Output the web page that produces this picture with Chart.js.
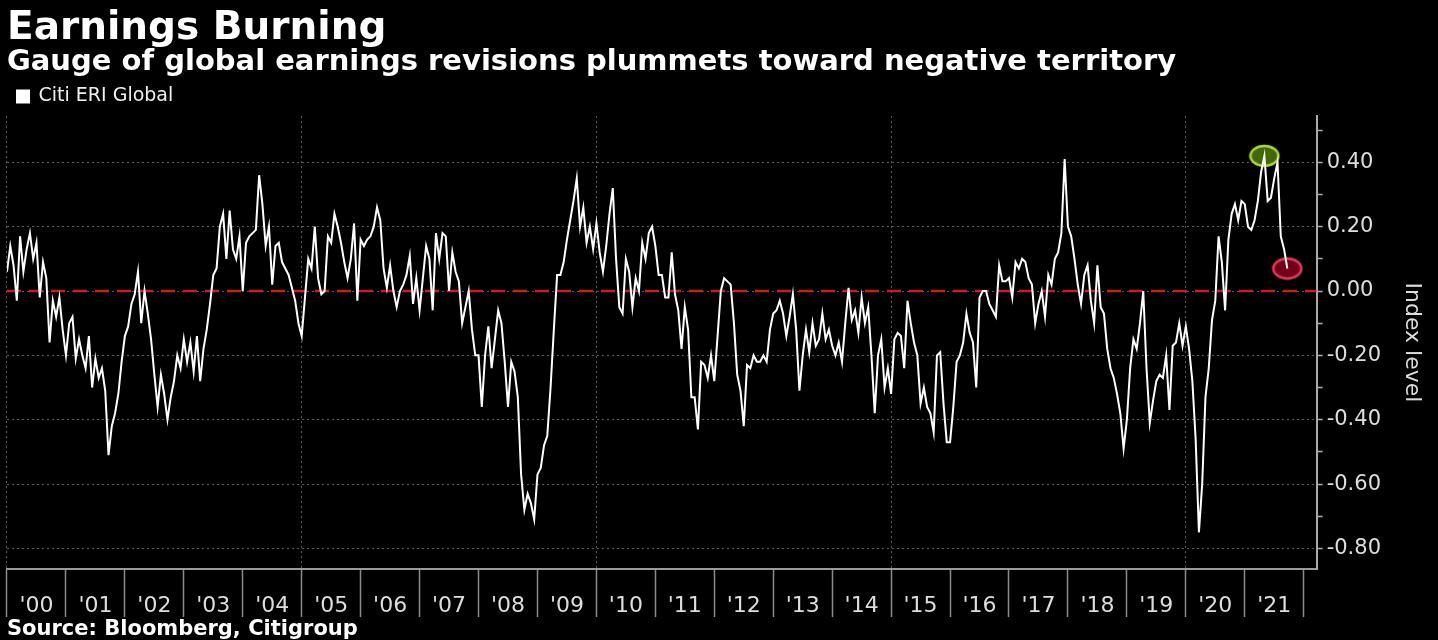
<!DOCTYPE html>
<html>
<head>
<meta charset="utf-8">
<title>Earnings Burning</title>
<script src="https://cdn.jsdelivr.net/npm/chart.js@4"></script>
<style>
  html, body { margin: 0; padding: 0; background: #000; }
  #wrap { width: 1438px; height: 640px; position: relative; }
</style>
</head>
<body>
<div id="wrap"><canvas id="eri-chart"></canvas></div>
<script>
// Citi ERI Global: one row per year, 18 readings a year
const startYear = 2000;
const pointsPerYear = 18;
const eriByYear = [
  [0.06, 0.14, 0.08, -0.03, 0.17, 0.06, 0.13, 0.18, 0.10, 0.15, -0.02, 0.09, 0.04, -0.16, -0.03, -0.08, -0.02, -0.12],
  [-0.20, -0.10, -0.08, -0.21, -0.15, -0.20, -0.24, -0.14, -0.30, -0.21, -0.27, -0.24, -0.31, -0.51, -0.42, -0.38, -0.32, -0.22],
  [-0.14, -0.11, -0.04, -0.01, 0.06, -0.10, 0.00, -0.07, -0.15, -0.26, -0.36, -0.26, -0.32, -0.40, -0.33, -0.28, -0.20, -0.24],
  [-0.15, -0.22, -0.16, -0.25, -0.14, -0.28, -0.18, -0.12, -0.04, 0.05, 0.07, 0.20, 0.24, 0.10, 0.25, 0.13, 0.10, 0.17],
  [0.00, 0.15, 0.17, 0.18, 0.19, 0.36, 0.27, 0.14, 0.20, 0.02, 0.14, 0.15, 0.09, 0.07, 0.05, 0.01, -0.03, -0.10],
  [-0.14, -0.02, 0.10, 0.07, 0.20, 0.04, -0.01, 0.00, 0.17, 0.15, 0.24, 0.20, 0.15, 0.09, 0.04, 0.10, 0.21, -0.03],
  [0.16, 0.14, 0.16, 0.17, 0.20, 0.26, 0.22, 0.07, 0.01, 0.08, 0.00, -0.05, 0.00, 0.02, 0.05, 0.11, -0.04, 0.04],
  [-0.06, 0.04, 0.14, 0.10, -0.06, 0.18, 0.10, 0.18, 0.17, 0.00, 0.12, 0.06, 0.03, -0.10, -0.05, 0.00, -0.12, -0.20],
  [-0.20, -0.36, -0.20, -0.11, -0.24, -0.15, -0.06, -0.10, -0.22, -0.36, -0.22, -0.25, -0.33, -0.57, -0.68, -0.63, -0.66, -0.71],
  [-0.57, -0.55, -0.48, -0.45, -0.30, -0.12, 0.05, 0.05, 0.09, 0.16, 0.22, 0.28, 0.35, 0.20, 0.26, 0.15, 0.20, 0.13],
  [0.21, 0.12, 0.06, 0.14, 0.24, 0.32, 0.10, -0.05, -0.07, 0.10, 0.06, -0.05, 0.04, 0.00, 0.15, 0.10, 0.18, 0.20],
  [0.14, 0.05, 0.05, -0.02, -0.02, 0.12, -0.01, -0.06, -0.18, -0.05, -0.12, -0.33, -0.33, -0.43, -0.22, -0.23, -0.27, -0.20],
  [-0.28, -0.14, 0.00, 0.04, 0.03, 0.02, -0.10, -0.26, -0.31, -0.42, -0.23, -0.24, -0.20, -0.22, -0.22, -0.20, -0.22, -0.12],
  [-0.07, -0.06, -0.03, -0.07, -0.14, -0.08, -0.01, -0.12, -0.31, -0.20, -0.12, -0.19, -0.10, -0.17, -0.15, -0.07, -0.15, -0.12],
  [-0.17, -0.20, -0.16, -0.22, -0.10, 0.01, -0.09, -0.06, -0.13, -0.02, -0.10, -0.05, -0.20, -0.38, -0.20, -0.15, -0.30, -0.24],
  [-0.32, -0.15, -0.13, -0.14, -0.24, -0.03, -0.10, -0.16, -0.20, -0.35, -0.30, -0.36, -0.38, -0.44, -0.20, -0.19, -0.35, -0.47],
  [-0.47, -0.36, -0.22, -0.20, -0.16, -0.07, -0.13, -0.16, -0.30, -0.02, 0.00, 0.00, -0.04, -0.06, -0.08, 0.08, 0.03, 0.03],
  [0.04, -0.02, 0.09, 0.07, 0.10, 0.09, 0.04, 0.02, -0.10, -0.04, 0.00, -0.08, 0.05, 0.02, 0.10, 0.12, 0.18, 0.41],
  [0.20, 0.17, 0.10, 0.02, -0.04, 0.05, 0.08, -0.03, -0.10, 0.08, -0.05, -0.07, -0.18, -0.24, -0.27, -0.32, -0.38, -0.49],
  [-0.40, -0.24, -0.15, -0.18, -0.10, 0.00, -0.24, -0.41, -0.34, -0.28, -0.26, -0.27, -0.20, -0.37, -0.17, -0.16, -0.10, -0.17],
  [-0.11, -0.18, -0.28, -0.46, -0.75, -0.60, -0.33, -0.24, -0.09, -0.03, 0.17, 0.09, -0.06, 0.16, 0.24, 0.27, 0.22, 0.28],
  [0.27, 0.20, 0.19, 0.22, 0.28, 0.37, 0.42, 0.28, 0.29, 0.35, 0.40, 0.17, 0.13, 0.07]
];
const yearLabels = ["'00", "'01", "'02", "'03", "'04", "'05", "'06", "'07", "'08", "'09", "'10",
  "'11", "'12", "'13", "'14", "'15", "'16", "'17", "'18", "'19", "'20", "'21"];
const yTickValues = [-0.8, -0.7, -0.6, -0.5, -0.4, -0.3, -0.2, -0.1, 0, 0.1, 0.2, 0.3, 0.4, 0.5];
const yTickLabels = ['-0.80', '', '-0.60', '', '-0.40', '', '-0.20', '', '0.00', '', '0.20', '', '0.40', ''];

const xMin = 2000, xMax = 2022.22;
const yMin = -0.864, yMax = 0.544;

const eriPoints = [];
eriByYear.forEach((vals, yi) => {
  vals.forEach((v, i) => eriPoints.push({x: startYear + yi + i / pointsPerYear, y: v}));
});

// highlight: peak of the last year and the latest reading
const lastYear = eriPoints.filter(p => p.x >= startYear + eriByYear.length - 1);
const peak = lastYear.reduce((a, b) => (b.y > a.y ? b : a));
const latest = eriPoints[eriPoints.length - 1];

function ellipseMarker(fill, stroke) {
  const c = document.createElement('canvas');
  c.width = 32;
  c.height = 24;
  const g = c.getContext('2d');
  g.beginPath();
  g.ellipse(16, 12, 14, 10, 0, 0, Math.PI * 2);
  g.fillStyle = fill;
  g.fill();
  g.lineWidth = 2.5;
  g.strokeStyle = stroke;
  g.stroke();
  return c;
}

const FONT = 'DejaVu Sans';
const GRID = '#5c5c5c';
const ctx = document.getElementById('eri-chart');

new Chart(ctx, {
  type: 'line',
  data: {
    datasets: [{
      label: 'Citi ERI Global',
      data: eriPoints,
      borderColor: '#ffffff',
      backgroundColor: '#ffffff',
      borderWidth: 2,
      pointRadius: 0,
      tension: 0,
      order: 1
    }, {
      label: 'zero',
      data: [{x: xMin, y: 0}, {x: xMax, y: 0}],
      borderColor: '#d21a1a',
      borderWidth: 2.5,
      borderDash: [14, 8],
      pointRadius: 0,
      order: 3
    }, {
      label: 'markers',
      data: [peak, latest],
      showLine: false,
      pointStyle: [ellipseMarker('rgba(70,110,0,0.95)', '#a6dc2a'), ellipseMarker('rgba(120,0,25,0.95)', '#ea3a5c')],
      pointRadius: 12,
      order: 2
    }]
  },
  options: {
    responsive: true,
    maintainAspectRatio: false,
    animation: false,
    layout: {autoPadding: false, padding: {left: 7, right: 10, top: 0, bottom: 0}},
    plugins: {
      tooltip: {enabled: false},
      title: {
        display: true,
        text: 'Earnings Burning',
        align: 'start',
        color: '#ffffff',
        font: {family: FONT, size: 39, weight: 'bold', lineHeight: 1},
        padding: {top: 9, bottom: 0}
      },
      subtitle: {
        display: true,
        text: 'Gauge of global earnings revisions plummets toward negative territory',
        align: 'start',
        color: '#ffffff',
        font: {family: FONT, size: 29, weight: 'bold', lineHeight: 1},
        padding: {top: 0, bottom: 0}
      },
      legend: {
        display: true,
        position: 'top',
        align: 'start',
        labels: {
          color: '#eeeeee',
          boxWidth: 12,
          boxHeight: 12,
          padding: 10,
          font: {family: FONT, size: 19},
          filter: item => item.text === 'Citi ERI Global'
        }
      }
    },
    scales: {
      x: {
        type: 'linear',
        min: xMin,
        max: xMax,
        afterBuildTicks: scale => {
          scale.ticks = yearLabels.map((_, i) => ({value: startYear + i + 0.5}));
        },
        ticks: {
          autoSkip: false,
          maxRotation: 0,
          color: '#dddddd',
          padding: -22,
          font: {family: FONT, size: 22, lineHeight: 1},
          callback: (v, i) => yearLabels[i]
        },
        grid: {
          offset: true,
          drawOnChartArea: true,
          color: c => (c.index !== undefined && c.index % 5 === 0 ? GRID : 'rgba(0,0,0,0)'),
          lineWidth: 1,
          tickLength: 48,
          tickColor: '#8a8a8a',
          tickWidth: 1.5,
          tickBorderDash: []
        },
        border: {display: true, color: '#9a9a9a', width: 2, dash: [2, 3]},
        title: {
          display: true,
          text: 'Source: Bloomberg, Citigroup',
          align: 'start',
          color: '#ffffff',
          font: {family: FONT, size: 21, weight: 'bold', lineHeight: 1},
          padding: {top: 24, bottom: 0}
        }
      },
      y: {
        type: 'linear',
        position: 'right',
        min: yMin,
        max: yMax,
        afterBuildTicks: scale => {
          scale.ticks = yTickValues.map(v => ({value: v}));
        },
        ticks: {
          color: '#dddddd',
          padding: 4,
          font: {family: FONT, size: 21},
          callback: (v, i) => yTickLabels[i]
        },
        grid: {
          color: c => (c.index !== undefined && c.index % 2 === 0 ? GRID : 'rgba(0,0,0,0)'),
          lineWidth: 1,
          tickLength: 6,
          tickColor: '#aaaaaa',
          tickWidth: 1.5,
          tickBorderDash: []
        },
        border: {display: true, color: '#aaaaaa', width: 2, dash: [2, 3]},
        title: {
          display: true,
          text: 'Index level',
          color: '#dddddd',
          font: {family: FONT, size: 22, lineHeight: 1},
          padding: {top: 5, bottom: 16}
        }
      }
    }
  }
});
</script>
</body>
</html>
